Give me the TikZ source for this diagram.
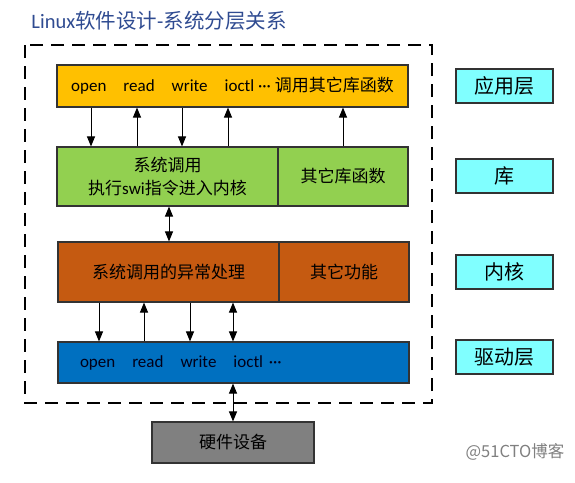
\documentclass[tikz,border=0pt]{standalone}
\usepackage{fontspec}
\setmainfont{Noto Sans CJK SC}
\newfontfamily\calib{Carlito}
\usetikzlibrary{arrows.meta}
\definecolor{titleblue}{RGB}{47,75,145}
\definecolor{appyellow}{RGB}{255,192,0}
\definecolor{libgreen}{RGB}{146,208,80}
\definecolor{kernorange}{RGB}{197,90,17}
\definecolor{drvblue}{RGB}{0,112,192}
\definecolor{hwgray}{RGB}{128,128,128}
\definecolor{tagcyan}{RGB}{128,255,255}
\tikzset{
  layer/.style={draw=black!80, line width=1.1pt, inner sep=0pt, font=\fontsize{17}{23}\selectfont},
  tagbox/.style={layer, fill=tagcyan, minimum width=97pt, minimum height=34pt, font=\fontsize{20}{22}\selectfont},
  call/.style={-{Triangle[length=10pt,width=8pt]}, line width=1pt},
  twoway/.style={{Triangle[length=10pt,width=8pt]}-{Triangle[length=10pt,width=8pt]}, line width=1pt},
  sysframe/.style={line width=1.2pt, dash pattern=on 13pt off 8pt}
}
\begin{document}
\begin{tikzpicture}[x=1pt, y=-1pt]
  %%%%% START %%%%%
  \useasboundingbox (0,0) rectangle (575,482);

  \node[text=titleblue, font=\fontsize{20.5}{22}\selectfont] (title) at (159,21) {{\calib Linux}软件设计{\calib -}系统分层关系};

  \draw[sysframe] (25,45) rectangle (432,403);

  \node[layer, fill=appyellow, minimum width=351pt, minimum height=42pt] (app) at (232.5,86)
    {{\calib open\quad read\quad write\quad ioctl\ ···}\ 调用其它库函数};

  \node[layer, fill=libgreen, minimum width=221pt, minimum height=59pt, align=center] (syscall) at (167.5,176.5)
    {系统调用\\执行{\calib swi}指令进入内核};
  \node[layer, fill=libgreen, minimum width=130pt, minimum height=59pt] (otherlib) at (343,176.5) {其它库函数};

  \node[layer, fill=kernorange, minimum width=221pt, minimum height=60pt] (excpt) at (168.5,272) {系统调用的异常处理};
  \node[layer, fill=kernorange, minimum width=130pt, minimum height=60pt] (otherfn) at (344,272) {其它功能};

  \node[layer, fill=drvblue, minimum width=351pt, minimum height=41pt, text width=307pt, text=black!90!blue] (drv) at (233.5,362.5)
    {{\calib open\quad read\quad write\quad ioctl\ ···}};

  \node[layer, fill=hwgray, minimum width=162pt, minimum height=41pt] (hw) at (233,442.5) {硬件设备};

  \node[tagbox] (tagapp) at (504.5,86) {应用层};
  \node[tagbox] (taglib) at (504.5,176) {库};
  \node[tagbox] (tagkern) at (504.5,272) {内核};
  \node[tagbox] (tagdrv) at (504.5,357) {驱动层};

  \node[text=black!50, font=\fontsize{16.5}{18}\selectfont] (mark) at (515,452) {@51CTO博客};

  % app <-> lib
  \draw[call] (app.south -| 91,0) -- (syscall.north -| 91,0);
  \draw[call] (syscall.north -| 137,0) -- (app.south -| 137,0);
  \draw[call] (app.south -| 182,0) -- (syscall.north -| 182,0);
  \draw[call] (syscall.north -| 228,0) -- (app.south -| 228,0);
  \draw[call] (otherlib.north) -- (app.south -| otherlib.north);

  % lib <-> kernel
  \draw[twoway] (syscall.south -| 169,0) -- (excpt.north -| 169,0);

  % kernel <-> driver
  \draw[call] (excpt.south -| 99,0) -- (drv.north -| 99,0);
  \draw[call] (drv.north -| 144,0) -- (excpt.south -| 144,0);
  \draw[call] (excpt.south -| 190,0) -- (drv.north -| 190,0);
  \draw[twoway] (excpt.south -| 233,0) -- (drv.north -| 233,0);

  % driver <-> hardware
  \draw[twoway] (drv.south -| hw.north) -- (hw.north);
  %%%%% END %%%%%
\end{tikzpicture}
\end{document}
